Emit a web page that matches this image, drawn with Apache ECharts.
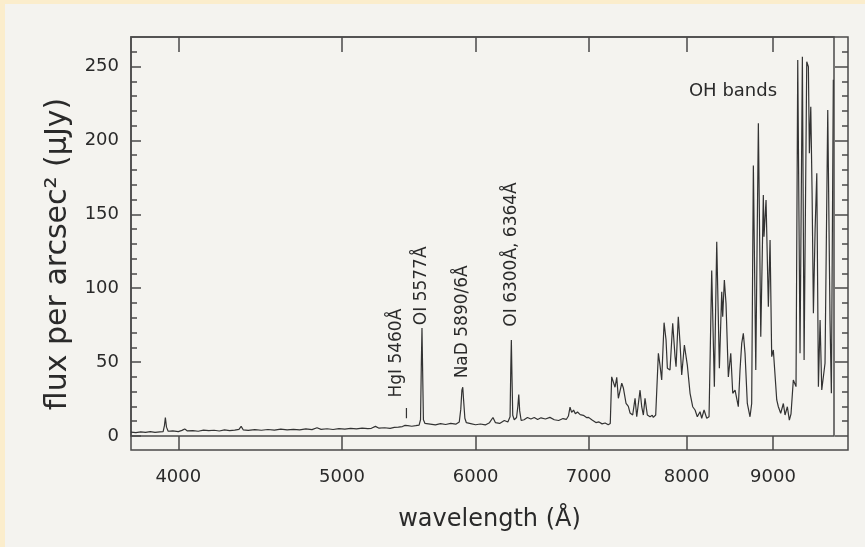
<!DOCTYPE html>
<html>
<head>
<meta charset="utf-8">
<script src="https://cdn.jsdelivr.net/npm/echarts@6/dist/echarts.min.js"></script>
<style>
  html, body { margin: 0; padding: 0; background: #f4f3ef; }
  #chart { width: 865px; height: 547px; }
</style>
</head>
<body>
<div id="chart"></div>
<script>
// Night-sky emission spectrum: wavelength (Å) against surface brightness (μJy per arcsec²).

const wavelength = [
  3750, 3775, 3800, 3825, 3850, 3875, 3900, 3918, 3925, 3930, 3936, 3945, 3970, 4000, 4020, 4035,
  4048, 4080, 4110, 4140, 4170, 4200, 4230, 4260, 4290, 4320, 4345, 4358, 4370, 4400, 4440, 4480,
  4520, 4560, 4600, 4640, 4680, 4720, 4760, 4800, 4833, 4860, 4900, 4940, 4980, 5020, 5060, 5100,
  5140, 5180, 5205, 5234, 5260, 5300, 5340, 5370, 5400, 5430, 5450, 5460, 5470, 5500, 5530, 5555,
  5566, 5572, 5577, 5582, 5588, 5600, 5640, 5680, 5720, 5760, 5800, 5840, 5868, 5880, 5889, 5896,
  5903, 5913, 5925, 5960, 6000, 6040, 6080, 6115, 6144, 6165, 6200, 6240, 6270, 6289, 6295, 6300,
  6305, 6312, 6325, 6345, 6356, 6364, 6372, 6385, 6410, 6440, 6470, 6500, 6530, 6560, 6600, 6640,
  6680, 6720, 6760, 6790, 6810, 6825, 6840, 6858, 6875, 6895, 6920, 6950, 6980, 7000, 7030, 7070,
  7100, 7130, 7160, 7190, 7210, 7224, 7240, 7257, 7274, 7290, 7324, 7340, 7367, 7390, 7407, 7434,
  7458, 7475, 7509, 7526, 7543, 7560, 7584, 7612, 7635, 7646, 7671, 7699, 7716, 7734, 7759, 7780,
  7794, 7822, 7851, 7876, 7887, 7911, 7930, 7948, 7977, 8009, 8039, 8068, 8094, 8119, 8149, 8168,
  8194, 8224, 8250, 8280, 8310, 8337, 8367, 8394, 8405, 8424, 8443, 8470, 8498, 8521, 8548, 8586,
  8606, 8626, 8645, 8665, 8692, 8724, 8744, 8764, 8793, 8824, 8853, 8884, 8892, 8917, 8945, 8966,
  8986, 9006, 9048, 9068, 9097, 9130, 9151, 9180, 9205, 9226, 9255, 9289, 9311, 9340, 9370, 9392,
  9426, 9447, 9460, 9478, 9495, 9512, 9534, 9556, 9577, 9599, 9621, 9664, 9700, 9730, 9748, 9774
];

const flux = [
  2.6, 2.3, 2.8, 2.4, 2.9, 2.5, 2.8, 3.0, 7.0, 12.5, 6.0, 3.2, 3.5, 3.0, 3.8, 4.8,
  3.5, 3.7, 3.2, 4.0, 3.6, 3.9, 3.4, 4.1, 3.7, 4.0, 4.5, 6.5, 4.2, 3.8, 4.3, 3.9,
  4.4, 4.0, 4.6, 4.1, 4.5, 4.2, 4.8, 4.3, 5.6, 4.5, 4.9, 4.4, 5.0, 4.6, 5.1, 4.8,
  5.3, 5.0, 5.2, 6.5, 5.3, 5.6, 5.2, 5.8, 6.0, 6.4, 7.2, 8.5, 7.0, 6.6, 7.0, 7.4,
  11, 48, 73, 44, 11, 8.5, 8.0, 7.5, 8.4, 7.8, 8.5, 8.0, 9.5, 18, 31, 33,
  24, 12, 9.0, 8.4, 7.6, 8.1, 7.5, 9.0, 12.5, 9.0, 8.5, 10.5, 9.5, 13, 45, 65,
  42, 14, 11, 12.5, 20, 28, 17, 10.5, 11, 12.5, 11.5, 12.5, 11.2, 12.3, 11.5, 12.6,
  11, 10.5, 11.8, 11.2, 13.5, 19.5, 16, 17.5, 15, 16.2, 14.5, 14, 12.5, 12.6, 11, 9.1,
  9.5, 8.2, 8.8, 7.6, 8.4, 40, 39, 33, 39.7, 25.5, 35.7, 32.5, 22, 20, 15.6, 14.2,
  25.5, 13, 31, 19.8, 14.2, 25.5, 14.2, 13, 14, 12.6, 14.2, 56, 48, 37.9, 76.7, 65,
  45.8, 44.7, 76.3, 53.7, 46.9, 80.7, 62.7, 41.3, 61.6, 48, 28.9, 19.8, 17.6, 13, 16.4, 12,
  17.6, 12, 13, 112, 33.4, 131.5, 45.8, 97.6, 80.7, 105.6, 89.8, 40, 56, 28.9, 31, 19.8,
  44.7, 62.7, 69.5, 56, 22, 13, 22, 183, 44.7, 211.6, 67.2, 163, 134.9, 159.7, 87.5, 132.6,
  53.7, 58.2, 24.4, 19.8, 15.4, 22, 14.2, 19.8, 10.8, 15, 37.9, 33.4, 254.4, 56, 256.7, 51.4,
  253.3, 249.9, 191.3, 222.8, 164.2, 83, 139.4, 177.8, 33.4, 78.5, 31.1, 49.2, 220.6, 78.5, 28.9, 241
];

// Axis ticks
const xTickValues = [4000, 5000, 6000, 7000, 8000, 9000];
const yMajorTicks = [0, 50, 100, 150, 200, 250];
const yMinorTicks = [10, 20, 30, 40, 60, 70, 80, 90, 110, 120, 130, 140, 160, 170, 180, 190,
                     210, 220, 230, 240, 260];

// Identified emission lines: label text, wavelength of the line, flux level where the label starts
const lineNames = ['HgI 5460Å', 'OI 5577Å', 'NaD 5890/6Å', 'OI 6300Å, 6364Å'];
const lineWavelengths = [5460, 5577, 5893, 6300];
const lineLabelFlux = [26, 75, 39, 74];

// Short marker under the Hg label
const hgMarkWavelength = [5460, 5460];
const hgMarkFlux = [12, 19];

// Band annotation
const bandName = 'OH bands';
const bandWavelength = 8524;
const bandFlux = 233;

const INK = '#2a2a2a';
const FRAME = '#4a4a4a';
const FONT = '"DejaVu Sans", sans-serif';

const spectrum = wavelength.map((w, i) => [w, flux[i]]);
const hgMark = hgMarkWavelength.map((w, i) => [w, hgMarkFlux[i]]);
const lineLabelPoints = lineNames.map((n, i) => ({
  name: n,
  value: [lineWavelengths[i], lineLabelFlux[i]],
  label: i === 0 ? { offset: [0, -10] } : {}
}));

const chart = echarts.init(document.getElementById('chart'), null, { renderer: 'canvas' });

const tickLine = { color: FRAME, width: 1.5 };
const noLine = { show: false, onZero: false };
const hidden = { show: false };
const annotationText = { fontFamily: FONT, color: INK, opacity: 1, textBorderWidth: 0,
                         textShadowBlur: 0, formatter: p => p.name };

chart.setOption({
  animation: false,
  backgroundColor: '#f4f3ef',
  grid: [
    // plotting box
    { left: 131, top: 37, width: 703, height: 399, show: true, borderColor: FRAME, borderWidth: 1.5,
      backgroundColor: 'transparent', containLabel: false },
    // outer box with the wavelength strip below and the flux strip at right
    { left: 131, top: 37, width: 717, height: 413, show: true, borderColor: FRAME, borderWidth: 1.5,
      backgroundColor: 'transparent', containLabel: false }
  ],
  xAxis: [
    { gridIndex: 0, type: 'log', min: 3750, max: 9783, axisLine: noLine, axisTick: hidden,
      axisLabel: hidden, splitLine: hidden, minorTick: hidden },
    { gridIndex: 1, type: 'log', min: 3750, max: 9970, position: 'bottom',
      axisLine: noLine, splitLine: hidden, minorTick: hidden,
      axisTick: { show: true, inside: true, length: 14, customValues: xTickValues, lineStyle: tickLine },
      axisLabel: { show: true, customValues: xTickValues, margin: 18, fontSize: 18, color: INK,
                   fontFamily: FONT, formatter: v => String(Math.round(v)) },
      name: 'wavelength (Å)', nameLocation: 'middle', nameGap: 58,
      nameTextStyle: { fontSize: 24, color: INK, fontFamily: FONT } },
    { gridIndex: 1, type: 'log', min: 3750, max: 9970, position: 'top',
      axisLine: noLine, splitLine: hidden, minorTick: hidden, axisLabel: hidden,
      axisTick: { show: true, inside: true, length: 15, customValues: xTickValues, lineStyle: tickLine } }
  ],
  yAxis: [
    { gridIndex: 0, type: 'value', min: 0, max: 270, position: 'left',
      axisLine: noLine, splitLine: hidden, minorTick: hidden,
      axisTick: { show: true, inside: true, length: 10, customValues: yMajorTicks, lineStyle: tickLine },
      axisLabel: { show: true, customValues: yMajorTicks, margin: 12, fontSize: 18, color: INK,
                   fontFamily: FONT } },
    { gridIndex: 0, type: 'value', min: 0, max: 270, position: 'left',
      axisLine: noLine, splitLine: hidden, minorTick: hidden, axisLabel: hidden,
      axisTick: { show: true, inside: true, length: 6, customValues: yMinorTicks, lineStyle: tickLine } },
    { gridIndex: 1, type: 'value', min: -9.474, max: 270, position: 'right',
      axisLine: noLine, splitLine: hidden, minorTick: hidden, axisLabel: hidden,
      axisTick: { show: true, inside: true, length: 13, customValues: yMajorTicks, lineStyle: tickLine } },
    { gridIndex: 1, type: 'value', min: -9.474, max: 270, position: 'right',
      axisLine: noLine, splitLine: hidden, minorTick: hidden, axisLabel: hidden,
      axisTick: { show: true, inside: true, length: 6, customValues: yMinorTicks, lineStyle: tickLine } }
  ],
  graphic: [
    { type: 'rect', shape: { x: 0, y: 0, width: 865, height: 4 }, style: { fill: '#fbedcc' }, silent: true },
    { type: 'rect', shape: { x: 0, y: 0, width: 5, height: 547 }, style: { fill: '#fbedcc' }, silent: true },
    { type: 'text', x: 58, y: 254, rotation: Math.PI / 2, silent: true,
      style: { text: 'flux per arcsec² (μJy)', fontSize: 30, fontFamily: FONT, fill: INK,
               align: 'center', verticalAlign: 'middle' } }
  ],
  series: [
    { name: 'sky', type: 'line', xAxisIndex: 0, yAxisIndex: 0, data: spectrum, symbol: 'none',
      lineStyle: { color: '#333333', width: 1.2 }, clip: true },
    { name: 'Hg marker', type: 'line', xAxisIndex: 0, yAxisIndex: 0, data: hgMark, symbol: 'none',
      lineStyle: { color: '#333333', width: 1.2 } },
    { name: 'line ids', type: 'scatter', xAxisIndex: 0, yAxisIndex: 0, data: lineLabelPoints,
      symbolSize: 1, itemStyle: { color: 'rgba(0,0,0,0)' },
      label: Object.assign({ show: true, position: 'inside', rotate: 90, align: 'left',
                             verticalAlign: 'middle', fontSize: 17 }, annotationText) },
    { name: 'band', type: 'scatter', xAxisIndex: 0, yAxisIndex: 0,
      data: [{ name: bandName, value: [bandWavelength, bandFlux] }],
      symbolSize: 1, itemStyle: { color: 'rgba(0,0,0,0)' },
      label: Object.assign({ show: true, position: 'inside', align: 'center',
                             verticalAlign: 'middle', fontSize: 18 }, annotationText) }
  ]
});
</script>
</body>
</html>
